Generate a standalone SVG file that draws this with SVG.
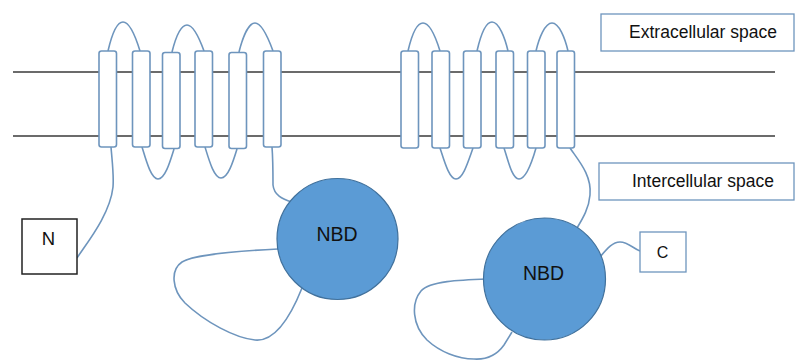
<svg xmlns="http://www.w3.org/2000/svg" width="795" height="361" viewBox="0 0 795 361">
  <style>
    .membrane { stroke: #3a3a3a; stroke-width: 1.5; fill: none; }
    .helix { fill: #ffffff; stroke: #6e95bd; stroke-width: 1.6; }
    .chain { fill: none; stroke: #6e95bd; stroke-width: 1.6; }
    .nbd { fill: #5b9bd5; stroke: #41719c; stroke-width: 1.2; }
    .label-box { fill: #ffffff; stroke: #6e95bd; stroke-width: 1.3; }
    .term-box { fill: #ffffff; stroke: #222222; stroke-width: 1.5; }
    .txt { font-family: "Liberation Sans", Arial, sans-serif; fill: #111111; text-anchor: middle; }
  </style>

  <!-- lipid bilayer -->
  <g id="membrane">
    <line class="membrane" x1="13" y1="72" x2="775" y2="72"/>
    <line class="membrane" x1="13" y1="136" x2="775" y2="136"/>
  </g>

  <!-- connecting chain: loops, tails and termini links -->
  <g id="connectors">
    <!-- extracellular loops, first domain -->
    <path class="chain" d="M108,51 C 111,38 116,22 123,22 C 130,22 136,38 140,51"/>
    <path class="chain" d="M172,52 C 175,40 180,25 187,25 C 194,25 200,40 204,51"/>
    <path class="chain" d="M239,52 C 242,40 248,23 255,23 C 262,23 269,40 273,51"/>
    <!-- intracellular loops, first domain -->
    <path class="chain" d="M142,147 C 146,160 151,179 158,179 C 165,179 170,162 174,149"/>
    <path class="chain" d="M205,147 C 209,160 214,178 221,178 C 228,178 233,162 237,149"/>
    <!-- N-terminal tail -->
    <path class="chain" d="M111,147 C 112,160 114,175 113,187 C 110,215 86,244 77,258"/>
    <!-- helix 6 to NBD1 -->
    <path class="chain" d="M272,147 C 273,160 273,175 273,185 C 274,195 282,199 292,202"/>
    <!-- NBD1 loop -->
    <path class="chain" d="M278,249 C 240,251 195,254 182,262 C 170,270 172,290 185,303 C 205,322 235,338 255,340 C 275,342 290,318 302,288"/>

    <!-- extracellular loops, second domain -->
    <path class="chain" d="M408,51 C 411,38 416,23 423,23 C 430,23 436,38 440,51"/>
    <path class="chain" d="M477,51 C 480,38 485,22 492,22 C 499,22 505,38 508,51"/>
    <path class="chain" d="M536,51 C 539,38 545,23 552,23 C 559,23 565,38 568,51"/>
    <!-- intracellular loops, second domain -->
    <path class="chain" d="M440,148 C 444,160 449,179 456,179 C 463,179 468,162 473,148"/>
    <path class="chain" d="M504,148 C 508,160 512,179 519,179 C 526,179 532,162 536,148"/>
    <!-- helix 12 to NBD2 -->
    <path class="chain" d="M570,148 C 578,160 592,175 590,195 C 589,208 583,218 577,228"/>
    <!-- NBD2 loop -->
    <path class="chain" d="M488,279 C 460,280 430,281 421,291 C 411,303 412,325 427,340 C 440,352 458,359 474,359 C 490,360 499,352 504,345 L 512,332"/>
    <!-- C-terminal link -->
    <path class="chain" d="M600,257 C 606,250 612,242 620,242 C 628,242 634,249 640,251"/>
  </g>

  <!-- transmembrane domain 1 -->
  <g id="tmd1">
    <rect class="helix" x="99" y="51" width="17.5" height="96" rx="2.5"/>
    <rect class="helix" x="132.5" y="51" width="17.5" height="96" rx="2.5"/>
    <rect class="helix" x="162.5" y="52.5" width="17.5" height="96" rx="2.5"/>
    <rect class="helix" x="195" y="51" width="17.5" height="96" rx="2.5"/>
    <rect class="helix" x="229" y="52.5" width="17.5" height="96" rx="2.5"/>
    <rect class="helix" x="263.5" y="51" width="17.5" height="96" rx="2.5"/>
  </g>

  <!-- transmembrane domain 2 -->
  <g id="tmd2">
    <rect class="helix" x="401" y="51" width="17.5" height="97" rx="2.5"/>
    <rect class="helix" x="432" y="51" width="17.5" height="97" rx="2.5"/>
    <rect class="helix" x="463.5" y="51" width="17.5" height="97" rx="2.5"/>
    <rect class="helix" x="496" y="51" width="17.5" height="97" rx="2.5"/>
    <rect class="helix" x="527.5" y="51" width="17.5" height="97" rx="2.5"/>
    <rect class="helix" x="557" y="51" width="17.5" height="97" rx="2.5"/>
  </g>

  <!-- nucleotide-binding domains -->
  <g id="nbd1">
    <circle class="nbd" cx="337.5" cy="239" r="60.5"/>
    <text class="txt" x="337" y="241" font-size="19.5">NBD</text>
  </g>
  <g id="nbd2">
    <circle class="nbd" cx="544.5" cy="279" r="61"/>
    <text class="txt" x="543.5" y="279.5" font-size="19.5">NBD</text>
  </g>

  <!-- termini -->
  <g id="n-terminus">
    <rect class="term-box" x="22" y="219" width="55" height="55"/>
    <text class="txt" x="48.5" y="245" font-size="18.5">N</text>
  </g>
  <g id="c-terminus">
    <rect class="label-box" x="640" y="232" width="46" height="40"/>
    <text class="txt" x="662.5" y="257.5" font-size="16">C</text>
  </g>

  <!-- compartment labels -->
  <g id="extracellular">
    <rect class="label-box" x="601" y="14" width="193" height="37"/>
    <text class="txt" x="703" y="37.5" font-size="17.5">Extracellular space</text>
  </g>
  <g id="intercellular">
    <rect class="label-box" x="599" y="163" width="195" height="37"/>
    <text class="txt" x="703" y="186.5" font-size="17.5">Intercellular space</text>
  </g>
</svg>
